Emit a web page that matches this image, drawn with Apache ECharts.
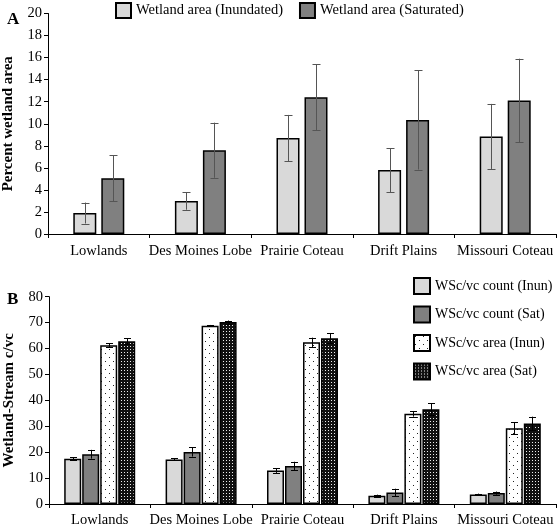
<!DOCTYPE html>
<html><head><meta charset="utf-8">
<script src="https://cdn.jsdelivr.net/npm/echarts@6/dist/echarts.min.js"></script>
<style>html,body{margin:0;padding:0;background:#fff}#c{width:559px;height:529px}</style>
</head><body><div id="c"></div>
<script>
var categories = ['Lowlands','Des Moines Lobe','Prairie Coteau','Drift Plains','Missouri Coteau'];
// Panel A
var aNames = ['Wetland area (Inundated)','Wetland area (Saturated)'];
var aInun = [1.9, 3.0, 8.7, 5.8, 8.85];
var aInunErr = [0.95, 0.8, 2.1, 2.0, 2.95];
var aSat = [5.05, 7.6, 12.4, 10.35, 12.1];
var aSatErr = [2.1, 2.5, 3.0, 4.5, 3.8];
var aTicks = [0,2,4,6,8,10,12,14,16,18,20];
// Panel B
var bNames = ['WSc/vc count (Inun)','WSc/vc count (Sat)','WSc/vc area (Inun)','WSc/vc area (Sat)'];
var bCountInun = [17.5, 17.2, 12.9, 3.2, 3.7];
var bCountInunErr = [0.5, 0.4, 0.9, 0.4, 0.3];
var bCountSat = [19.2, 20.1, 14.7, 4.4, 4.2];
var bCountSatErr = [1.7, 1.8, 1.6, 1.5, 0.6];
var bAreaInun = [61.3, 68.8, 62.4, 34.8, 29.2];
var bAreaInunErr = [0.7, 0.3, 1.8, 1.1, 2.3];
var bAreaSat = [62.8, 70.2, 64.0, 36.6, 31.1];
var bAreaSatErr = [1.1, 0.6, 2.0, 2.2, 2.6];
var bTicks = [0,10,20,30,40,50,60,70,80];

function makePattern(kind){
  var c = document.createElement('canvas');
  var ctx;
  if(kind==='dots'){
    c.width=8;c.height=8;ctx=c.getContext('2d');
    ctx.fillStyle='#fff';ctx.fillRect(0,0,8,8);
    ctx.fillStyle='#222';ctx.fillRect(1,1,1,1);ctx.fillRect(5,5,1,1);
  } else {
    c.width=3;c.height=3;ctx=c.getContext('2d');
    ctx.fillStyle='#111';ctx.fillRect(0,0,3,3);
    ctx.fillStyle='#eee';ctx.fillRect(1,1,1,1);
  }
  return {image:c, repeat:'repeat'};
}
var font = 'Liberation Serif';
var lightGrey = '#d9d9d9', darkGrey = '#808080';

function errSeries(gridIdx, vals, errs, idx, n, bw, gap, color, capW){
  var data = vals.map(function(v,i){return [i, v-errs[i], v+errs[i]];});
  return {
    type:'custom', xAxisIndex:gridIdx, yAxisIndex:gridIdx, z:10, silent:true,
    data:data,
    renderItem:function(params, api){
      var off = (idx-(n-1)/2)*(bw+gap);
      var lo = api.coord([api.value(0), api.value(1)]);
      var hi = api.coord([api.value(0), api.value(2)]);
      var x = Math.round(lo[0]+off)+0.5;
      var st = {stroke:color, lineWidth:1};
      return {type:'group', children:[
        {type:'line', shape:{x1:x,y1:lo[1],x2:x,y2:hi[1]}, style:st},
        {type:'line', shape:{x1:x-capW/2,y1:Math.round(lo[1])+0.5,x2:x+capW/2,y2:Math.round(lo[1])+0.5}, style:st},
        {type:'line', shape:{x1:x-capW/2,y1:Math.round(hi[1])+0.5,x2:x+capW/2,y2:Math.round(hi[1])+0.5}, style:st}
      ]};
    }
  };
}

var aBW = 23, aGap = 5, bBW = 17, bGap = 1;
var border = {borderColor:'#000', borderWidth:1.5};
function bar(gridIdx, name, vals, color, bw, gapPct){
  return {type:'bar', name:name, xAxisIndex:gridIdx, yAxisIndex:gridIdx, data:vals, barWidth:bw, barGap:gapPct,
    itemStyle:Object.assign({color:color}, border)};
}
var axisLine = {show:true, lineStyle:{color:'#000', width:1}};
var txt = {color:'#000', fontFamily:font, fontSize:14.5};
var txtB = {color:'#000', fontFamily:font, fontSize:14};

var option = {
  animation:false,
  textStyle:{fontFamily:font},
  title:[
    {text:'A', left:2, top:6, textStyle:{fontFamily:font, fontSize:17, fontWeight:'bold', color:'#000'}},
    {text:'B', left:2, top:286, textStyle:{fontFamily:font, fontSize:17, fontWeight:'bold', color:'#000'}}
  ],
  legend:[
    {data:aNames, left:110, top:-3, orient:'horizontal', itemWidth:15, itemHeight:15, itemGap:16,
     textStyle:txt, icon:'rect'},
    {data:bNames, left:408, top:272, orient:'vertical', itemWidth:16, itemHeight:16, itemGap:10.5,
     textStyle:txtB, icon:'rect'}
  ],
  grid:[
    {left:48, top:13.5, width:508, height:220.5, outerBoundsMode:'none', containLabel:false},
    {left:49, top:296.7, width:507, height:207.3, outerBoundsMode:'none', containLabel:false}
  ],
  xAxis:[
    {type:'category', gridIndex:0, data:categories, axisLine:axisLine,
     axisTick:{show:true, length:4, lineStyle:{color:'#000'}}, axisLabel:Object.assign({margin:10, interval:0, hideOverlap:false}, txt)},
    {type:'category', gridIndex:1, data:categories, axisLine:axisLine,
     axisTick:{show:true, length:4, lineStyle:{color:'#000'}}, axisLabel:Object.assign({margin:9, interval:0, hideOverlap:false}, txt)}
  ],
  yAxis:[
    {type:'value', gridIndex:0, min:aTicks[0], max:aTicks[aTicks.length-1], interval:aTicks[1]-aTicks[0],
     axisLine:axisLine, axisTick:{show:true, length:4, lineStyle:{color:'#000'}}, splitLine:{show:false},
     axisLabel:Object.assign({margin:6}, txt),
     name:'Percent wetland area', nameLocation:'middle', nameGap:32,
     nameTextStyle:{fontFamily:font, fontSize:15, fontWeight:'bold', color:'#000'}},
    {type:'value', gridIndex:1, min:bTicks[0], max:bTicks[bTicks.length-1], interval:bTicks[1]-bTicks[0],
     axisLine:axisLine, axisTick:{show:true, length:4, lineStyle:{color:'#000'}}, splitLine:{show:false},
     axisLabel:Object.assign({margin:6}, txt),
     name:'Wetland-Stream c/vc', nameLocation:'middle', nameGap:32,
     nameTextStyle:{fontFamily:font, fontSize:15, fontWeight:'bold', color:'#000'}}
  ],
  series:[
    bar(0, aNames[0], aInun, lightGrey, aBW, (aGap/aBW*100)+'%'),
    bar(0, aNames[1], aSat, darkGrey, aBW, (aGap/aBW*100)+'%'),
    bar(1, bNames[0], bCountInun, lightGrey, bBW, (bGap/bBW*100)+'%'),
    bar(1, bNames[1], bCountSat, darkGrey, bBW, (bGap/bBW*100)+'%'),
    bar(1, bNames[2], bAreaInun, makePattern('dots'), bBW, (bGap/bBW*100)+'%'),
    bar(1, bNames[3], bAreaSat, makePattern('dense'), bBW, (bGap/bBW*100)+'%'),
    errSeries(0, aInun, aInunErr, 0, 2, aBW, aGap, '#555', 8),
    errSeries(0, aSat, aSatErr, 1, 2, aBW, aGap, '#555', 8),
    errSeries(1, bCountInun, bCountInunErr, 0, 4, bBW, bGap, '#000', 7),
    errSeries(1, bCountSat, bCountSatErr, 1, 4, bBW, bGap, '#000', 7),
    errSeries(1, bAreaInun, bAreaInunErr, 2, 4, bBW, bGap, '#000', 7),
    errSeries(1, bAreaSat, bAreaSatErr, 3, 4, bBW, bGap, '#000', 7)
  ]
};
var chart = echarts.init(document.getElementById('c'), null, {renderer:'canvas'});
chart.setOption(option);
</script></body></html>
